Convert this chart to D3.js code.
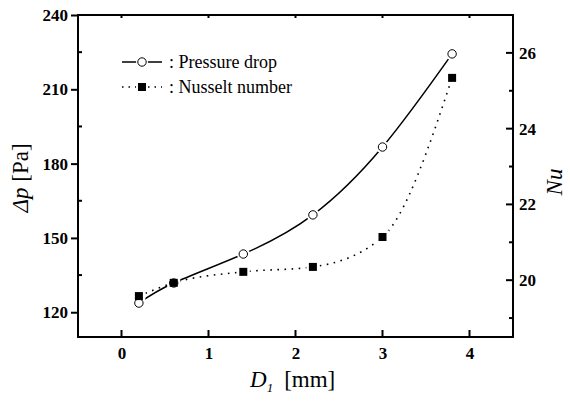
<!DOCTYPE html>
<html>
<head>
<meta charset="utf-8">
<title>Pressure drop and Nusselt number</title>
<style>
  body { margin: 0; background: #fff; }
  svg { display: block; }
</style>
</head>
<body>
<svg width="570" height="405"></svg>
<script src="https://cdn.jsdelivr.net/npm/d3@7"></script>
<script>
// data
const d1 = [0.2, 0.6, 1.4, 2.2, 3.0, 3.8];
const pressureDrop = [123.7, 131.8, 143.5, 159.3, 186.7, 224.3];
const nusselt = [19.58, 19.93, 20.22, 20.35, 21.14, 25.34];
const xTicks = [0, 1, 2, 3, 4];
const leftTicks = [120, 150, 180, 210, 240];
const rightTicks = [20, 22, 24, 26];

const serif = "'Liberation Serif', 'DejaVu Serif', serif";

const svg = d3.select("svg");
const pLeft = 78, pRight = 513, pTop = 15, pBottom = 337;

const x = d3.scaleLinear().domain([-0.5, 4.5]).range([pLeft, pRight]);
const yL = d3.scaleLinear().domain([110, 240]).range([pBottom, pTop]);
const yR = d3.scaleLinear().domain([18.5, 27]).range([pBottom, pTop]);

function styleTicks(g) {
  g.select(".domain").remove();
  g.selectAll(".tick text")
    .style("font-family", serif)
    .style("font-weight", "bold")
    .style("font-size", "17px")
    .attr("fill", "#000");
}

// frame
svg.append("rect")
  .attr("x", pLeft).attr("y", pTop)
  .attr("width", pRight - pLeft).attr("height", pBottom - pTop)
  .attr("fill", "none").attr("stroke", "#000").attr("stroke-width", 2);

// left axis: major out, minor in
const gl = svg.append("g").attr("transform", `translate(${pLeft},0)`)
  .call(d3.axisLeft(yL).tickValues(leftTicks).tickSize(7).tickPadding(3));
styleTicks(gl);
gl.selectAll(".tick line").attr("stroke-width", 2);
svg.append("g").selectAll("line")
  .data([135, 165, 195, 225]).enter().append("line")
    .attr("x1", pLeft).attr("x2", pLeft + 4)
    .attr("y1", d => yL(d)).attr("y2", d => yL(d))
    .attr("stroke", "#000").attr("stroke-width", 2);

// right axis
const gr = svg.append("g").attr("transform", `translate(${pRight},0)`)
  .call(d3.axisRight(yR).tickValues(rightTicks).tickSize(0).tickPadding(6));
styleTicks(gr);
svg.append("g").selectAll("line")
  .data(rightTicks).enter().append("line")
    .attr("x1", pRight - 7).attr("x2", pRight)
    .attr("y1", d => yR(d)).attr("y2", d => yR(d))
    .attr("stroke", "#000").attr("stroke-width", 2);
svg.append("g").selectAll("line")
  .data([19, 21, 23, 25]).enter().append("line")
    .attr("x1", pRight - 4).attr("x2", pRight)
    .attr("y1", d => yR(d)).attr("y2", d => yR(d))
    .attr("stroke", "#000").attr("stroke-width", 2);

// bottom axis
const gb = svg.append("g").attr("transform", `translate(0,${pBottom})`)
  .call(d3.axisBottom(x).tickValues(xTicks).tickFormat(d3.format("d"))
    .tickSize(0).tickPadding(10));
styleTicks(gb);
svg.append("g").selectAll("line")
  .data(xTicks).enter().append("line")
    .attr("x1", d => x(d)).attr("x2", d => x(d))
    .attr("y1", pBottom - 7).attr("y2", pBottom)
    .attr("stroke", "#000").attr("stroke-width", 2);
svg.append("g").selectAll("line")
  .data(xTicks).enter().append("line")
    .attr("x1", d => x(d)).attr("x2", d => x(d))
    .attr("y1", pTop).attr("y2", pTop + 3)
    .attr("stroke", "#000").attr("stroke-width", 2);

// curves
const pts1 = d1.map((d, i) => [x(d), yL(pressureDrop[i])]);
const pts2 = d1.map((d, i) => [x(d), yR(nusselt[i])]);

svg.append("path")
  .attr("d", d3.line().curve(d3.curveMonotoneX)(pts2))
  .attr("fill", "none").attr("stroke", "#000").attr("stroke-width", 1.6)
  .attr("stroke-dasharray", "1.6 5.5");
svg.append("path")
  .attr("d", d3.line().curve(d3.curveNatural)(pts1))
  .attr("fill", "none").attr("stroke", "#000").attr("stroke-width", 1.5);

// white halos to give the small gaps around markers
svg.append("g").selectAll("circle")
  .data(pts1).enter().append("circle")
    .attr("cx", d => d[0]).attr("cy", d => d[1]).attr("r", 6.5)
    .attr("fill", "#fff");
svg.append("g").selectAll("rect")
  .data(pts2).enter().append("rect")
    .attr("x", d => d[0] - 6.5).attr("y", d => d[1] - 6.5)
    .attr("width", 13).attr("height", 13).attr("fill", "#fff");

svg.append("g").selectAll("circle")
  .data(pts1).enter().append("circle")
    .attr("cx", d => d[0]).attr("cy", d => d[1]).attr("r", 4.2)
    .attr("fill", "#fff").attr("stroke", "#000").attr("stroke-width", 1);
svg.append("g").selectAll("rect")
  .data(pts2).enter().append("rect")
    .attr("x", d => d[0] - 4).attr("y", d => d[1] - 4)
    .attr("width", 8).attr("height", 8).attr("fill", "#000");

// legend
const lg = svg.append("g").style("font-family", serif).style("font-size", "18px");
lg.append("line").attr("x1", 122).attr("x2", 162).attr("y1", 62).attr("y2", 62)
  .attr("stroke", "#000").attr("stroke-width", 1.5);
lg.append("circle").attr("cx", 142).attr("cy", 62).attr("r", 6)
  .attr("fill", "#fff");
lg.append("circle").attr("cx", 142).attr("cy", 62).attr("r", 4.2)
  .attr("fill", "#fff").attr("stroke", "#000");
lg.append("text").attr("x", 169).attr("y", 68)
  .text(": Pressure drop");
lg.append("line").attr("x1", 122).attr("x2", 162).attr("y1", 87).attr("y2", 87)
  .attr("stroke", "#000").attr("stroke-width", 1.5).attr("stroke-dasharray", "1.5 5");
lg.append("rect").attr("x", 136).attr("y", 81).attr("width", 12).attr("height", 12)
  .attr("fill", "#fff");
lg.append("rect").attr("x", 138).attr("y", 83).attr("width", 8).attr("height", 8)
  .attr("fill", "#000");
lg.append("text").attr("x", 169).attr("y", 93)
  .text(": Nusselt number");

// axis titles
const titles = svg.append("g").style("font-family", serif).style("font-size", "23px");
const tl = titles.append("text")
  .attr("transform", "translate(28,178) rotate(-90)")
  .attr("text-anchor", "middle");
tl.append("tspan").style("font-style", "italic").text("Δp");
tl.append("tspan").text(" [Pa]");

titles.append("text")
  .attr("transform", "translate(562,182) rotate(-90)")
  .attr("text-anchor", "middle")
  .style("font-style", "italic").text("Nu");

const tb = titles.append("text")
  .attr("x", 250).attr("y", 387);
tb.append("tspan").style("font-style", "italic").text("D");
tb.append("tspan").style("font-style", "italic").style("font-size", "13px")
  .attr("dy", 5).text("1");
tb.append("tspan").attr("dy", -5).attr("dx", 11).text("[mm]");
</script>
</body>
</html>
